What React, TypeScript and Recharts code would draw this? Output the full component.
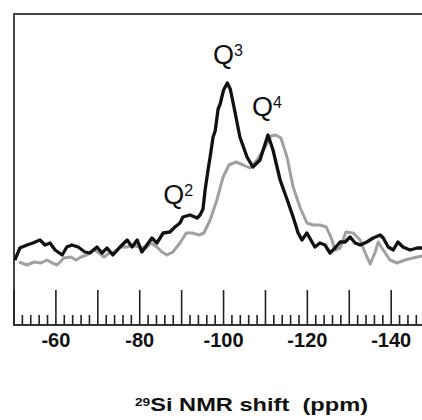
import React from "react";
import { LineChart, Line, XAxis, YAxis, ReferenceArea, ReferenceDot, Label } from "recharts";

// 29Si chemical shift (ppm) and intensity (arbitrary units)
const blackShift = [
  -50.2, -51.4, -53.1, -54.5, -56.2, -57.4, -58.6, -59.8, -61.5, -62.6, -63.8, -65.3, -66.9, -68.1,
  -69.8, -71.0, -72.2, -73.6, -75.3, -77.0, -78.2, -79.4, -80.5, -81.7, -82.9, -84.1, -85.6, -87.2,
  -88.4, -89.6, -90.3, -92.0, -93.7, -94.4, -95.1, -95.6, -96.3, -96.8, -97.5, -98.0, -98.7, -99.2,
  -100.0, -100.9, -101.6, -102.3, -103.9, -105.6, -107.0, -108.7, -110.6, -111.8, -113.5, -115.2,
  -116.6, -117.8, -118.7, -119.9, -121.1, -121.8, -123.0, -124.2, -125.4, -126.6, -127.8, -129.0,
  -130.2, -131.4, -132.6, -134.2, -135.7, -137.4, -138.1, -139.3, -140.5, -141.6, -142.8, -144.5,
  -146.2, -147.4, -149.0,
];
const blackIntensity = [
  65, 77, 80, 82, 85, 80, 82, 75, 70, 78, 80, 78, 73, 72,
  78, 72, 77, 70, 78, 85, 78, 85, 73, 80, 87, 82, 92, 93,
  98, 102, 108, 110, 107, 110, 116, 135, 155, 168, 188, 194, 216, 221,
  235, 242, 236, 222, 188, 168, 158, 165, 190, 175, 145, 125,
  108, 92, 85, 92, 83, 78, 82, 80, 72, 77, 83, 83,
  88, 82, 80, 83, 87, 90, 87, 78, 75, 83, 78, 75,
  77, 77, 78,
];
const grayShift = [
  -51.2, -53.1, -54.8, -56.4, -57.9, -59.1, -60.3, -61.9, -63.6, -64.8, -66.0, -67.4, -69.1, -70.3,
  -71.5, -72.7, -73.9, -75.5, -77.0, -78.2, -79.8, -81.5, -82.7, -84.1, -85.3, -86.5, -87.9, -89.6,
  -91.1, -92.5, -94.2, -95.3, -96.8, -98.4, -99.9, -101.3, -103.0, -104.7, -106.3, -108.0, -109.9,
  -111.3, -112.5, -113.7, -115.2, -116.6, -118.3, -119.9, -121.4, -123.0, -124.5, -125.7, -126.6,
  -127.8, -129.2, -130.9, -132.6, -133.8, -135.0, -136.2, -136.9, -138.1, -139.7, -141.4, -143.3,
  -145.2, -147.4, -149.0,
];
const grayIntensity = [
  63, 60, 63, 62, 65, 62, 60, 67, 68, 65, 68, 70, 75, 72,
  68, 72, 73, 78, 78, 80, 78, 77, 82, 78, 73, 70, 73, 82,
  92, 92, 90, 92, 105, 125, 148, 160, 163, 160, 157, 165, 178,
  189, 190, 187, 167, 138, 117, 102, 100, 100, 98, 87, 75,
  77, 93, 92, 85, 72, 61, 73, 83, 75, 65, 62, 65,
  67, 69, 70,
];

const labeledTicks = [-60, -80, -100, -120, -140];
const axisTicks: number[] = [];
for (let v = -50; v >= -160; v -= 2) axisTicks.push(v);

const blackData = blackShift.map((ppm, i) => ({ ppm, v: blackIntensity[i] }));
const grayData = grayShift.map((ppm, i) => ({ ppm, v: grayIntensity[i] }));

const FONT = "'Liberation Sans', Arial, Helvetica, sans-serif";

const AxisTick = (props: any) => {
  const { x, y, payload } = props;
  const v = payload.value as number;
  const major = v % 10 === 0;
  const labeled = labeledTicks.includes(v);
  return (
    <g>
      <line x1={x} x2={x} y1={y} y2={y - (major ? 35 : 10)} stroke="#222" strokeWidth={1.6} />
      {labeled && (
        <text x={x} y={y + 22} textAnchor="middle" fontSize={20} fontWeight="bold" fill="#111" fontFamily={FONT}>
          {v}
        </text>
      )}
    </g>
  );
};

const annot = (main: string, sup: string) => (props: any) => {
  const vb = props.viewBox || {};
  return (
    <text x={vb.x} y={vb.y} fontSize={27} fill="#111" fontFamily={FONT}>
      {main}
      <tspan fontSize={16} dy={-8}>{sup}</tspan>
    </text>
  );
};

const TitleLabel = (props: any) => {
  const vb = props.viewBox || { x: 0, y: 0 };
  return (
    <text
      x={135}
      y={vb.y + 86}
      fontWeight="bold"
      fill="#111"
      fontFamily={FONT}
      textLength={233}
      lengthAdjust="spacingAndGlyphs"
      style={{ whiteSpace: "pre" }}
    >
      <tspan fontSize={11} dy={-5}>29</tspan>
      <tspan fontSize={19} dy={5}>Si NMR shift  (ppm)</tspan>
    </text>
  );
};

export default function App() {
  return (
    <div style={{ position: "absolute", left: 0, top: 0, width: 422, height: 420, overflow: "hidden", background: "#fff" }}>
      <LineChart width={480} height={420} margin={{ top: 14, left: 14, right: 5, bottom: 0 }}>
        <XAxis
          type="number"
          dataKey="ppm"
          domain={[-160, -50]}
          reversed
          ticks={axisTicks}
          interval={0}
          tickSize={0}
          tickMargin={0}
          tick={<AxisTick />}
          axisLine={{ stroke: "#333", strokeWidth: 2 }}
          height={95}
          allowDataOverflow
        >
          <Label content={<TitleLabel />} />
        </XAxis>
        <YAxis type="number" domain={[0, 311]} hide allowDataOverflow />
        <ReferenceArea x1={-160} x2={-50} y1={0} y2={311} fill="none" stroke="#444" strokeWidth={2} />
        <Line data={grayData} dataKey="v" type="linear" stroke="#a0a0a0" strokeWidth={3} dot={false} activeDot={false} isAnimationActive={false} strokeLinejoin="round" />
        <Line data={blackData} dataKey="v" type="linear" stroke="#111" strokeWidth={3.3} dot={false} activeDot={false} isAnimationActive={false} strokeLinejoin="round" />
        <ReferenceDot x={-85.6} y={121} r={0} fill="none" stroke="none" label={{ content: annot("Q", "2") } as any} />
        <ReferenceDot x={-97.5} y={261} r={0} fill="none" stroke="none" label={{ content: annot("Q", "3") } as any} />
        <ReferenceDot x={-106.8} y={209} r={0} fill="none" stroke="none" label={{ content: annot("Q", "4") } as any} />
      </LineChart>
    </div>
  );
}
